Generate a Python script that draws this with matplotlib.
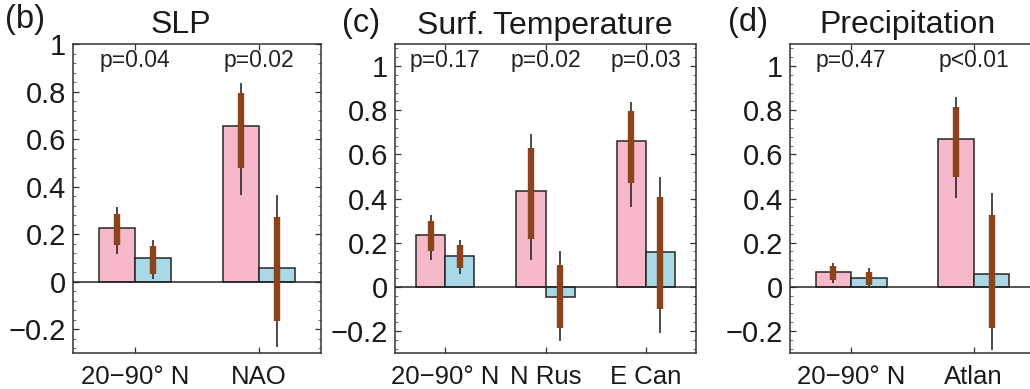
import matplotlib
matplotlib.use("Agg")
import matplotlib.pyplot as plt
from matplotlib.ticker import AutoMinorLocator

plt.rcParams['font.family'] = ['Liberation Sans', 'DejaVu Sans']

# ---- data -------------------------------------------------------------
slp_groups = ["20\u221290\u00b0 N", "NAO"]
slp_pink = [0.224, 0.654]
slp_pink_box = [(0.156, 0.285), (0.477, 0.793)]
slp_pink_whisk = [(0.118, 0.315), (0.363, 0.836)]
slp_blue = [0.098, 0.058]
slp_blue_box = [(0.031, 0.150), (-0.164, 0.273)]
slp_blue_whisk = [(0.010, 0.175), (-0.274, 0.366)]
slp_p = ["p=0.04", "p=0.02"]

tas_groups = ["20\u221290\u00b0 N", "N Rus", "E Can"]
tas_pink = [0.235, 0.434, 0.661]
tas_pink_box = [(0.164, 0.299), (0.216, 0.627), (0.469, 0.798)]
tas_pink_whisk = [(0.122, 0.326), (0.122, 0.692), (0.361, 0.838)]
tas_blue = [0.140, -0.047, 0.157]
tas_blue_box = [(0.085, 0.190), (-0.187, 0.100), (-0.101, 0.406)]
tas_blue_whisk = [(0.059, 0.213), (-0.247, 0.160), (-0.210, 0.499)]
tas_p = ["p=0.17", "p=0.02", "p=0.03"]

pr_groups = ["20\u221290\u00b0 N", "Atlan"]
pr_pink = [0.065, 0.671]
pr_pink_box = [(0.032, 0.092), (0.499, 0.816)]
pr_pink_whisk = [(0.017, 0.110), (0.404, 0.861)]
pr_blue = [0.041, 0.059]
pr_blue_box = [(0.009, 0.069), (-0.187, 0.326)]
pr_blue_whisk = [(0.003, 0.085), (-0.288, 0.427)]
pr_p = ["p=0.47", "p<0.01"]

ytick_vals = [-0.2, 0, 0.2, 0.4, 0.6, 0.8, 1.0]
ytick_labels = ["\u22120.2", "0", "0.2", "0.4", "0.6", "0.8", "1"]

# ---- style ------------------------------------------------------------
PINK = "#f7b8c9"
BLUE = "#a9d8e6"
BROWN = "#8b431c"
EDGE = "#262626"
W = 0.29

W_PX, H_PX = 1030, 389
fig = plt.figure(figsize=(W_PX / 100, H_PX / 100), dpi=100)


def add_axes(left, right, top=44, bottom=353):
    return fig.add_axes([left / W_PX, 1 - bottom / H_PX,
                         (right - left) / W_PX, (bottom - top) / H_PX])


def panel(ax, groups, pink, pink_box, pink_whisk, blue, blue_box,
          blue_whisk, plabels, ytop, p_y, right_ticks=True):
    x = list(range(1, len(groups) + 1))
    xp = [v - W / 2 for v in x]
    xb = [v + W / 2 for v in x]
    ax.bar(xp, pink, width=W, color=PINK, edgecolor=EDGE, linewidth=1.1,
           zorder=2)
    ax.bar(xb, blue, width=W, color=BLUE, edgecolor=EDGE, linewidth=1.1,
           zorder=2)
    ax.axhline(0, color=EDGE, linewidth=1.1, zorder=3)
    for xs, box, whisk in ((xp, pink_box, pink_whisk),
                           (xb, blue_box, blue_whisk)):
        for xi, (b0, b1), (w0, w1) in zip(xs, box, whisk):
            ax.plot([xi, xi], [w0, w1], color="#1a1a1a", linewidth=1.1,
                    zorder=4, solid_capstyle="butt")
            ax.plot([xi, xi], [b0, b1], color=BROWN, linewidth=4.6,
                    zorder=5, solid_capstyle="butt")
    for xi, txt in zip(x, plabels):
        ax.text(xi, p_y, txt, ha="center", va="baseline", fontsize=16.5,
                color="#222222", zorder=6)
    ax.set_xlim(0.5, len(groups) + 0.5)
    ax.set_ylim(-0.3, ytop)
    ax.set_xticks(x)
    ax.set_xticklabels(groups, fontsize=18.5, color="#1a1a1a")
    ax.set_yticks(ytick_vals)
    ax.set_yticklabels(ytick_labels, fontsize=21, color="#1a1a1a")
    ax.yaxis.set_minor_locator(AutoMinorLocator(5))
    ax.tick_params(axis="both", which="major", direction="in", length=4,
                   width=0.9, color="#333333", top=True, right=right_ticks)
    ax.tick_params(axis="x", pad=9)
    ax.tick_params(axis="y", pad=5)
    ax.tick_params(axis="y", which="minor", direction="in", length=2,
                   width=0.6, color="#555555", left=True, right=right_ticks)
    for s in ax.spines.values():
        s.set_color("#333333")
        s.set_linewidth(1.1)


ax_b = add_axes(73, 321)
panel(ax_b, slp_groups, slp_pink, slp_pink_box, slp_pink_whisk, slp_blue,
      slp_blue_box, slp_blue_whisk, slp_p, 1.0, 0.905)

ax_c = add_axes(395, 696)
panel(ax_c, tas_groups, tas_pink, tas_pink_box, tas_pink_whisk, tas_blue,
      tas_blue_box, tas_blue_whisk, tas_p, 1.1, 0.997)

ax_d = add_axes(790, 1035)
panel(ax_d, pr_groups, pr_pink, pr_pink_box, pr_pink_whisk, pr_blue,
      pr_blue_box, pr_blue_whisk, pr_p, 1.1, 0.997, right_ticks=False)


def ftext(xpx, ypx, s, size, ha="center"):
    fig.text(xpx / W_PX, 1 - ypx / H_PX, s, fontsize=size, ha=ha,
             va="baseline", color="#1a1a1a")


ftext(5, 28, "(b)", 23.5, ha="left")
ftext(181, 33, "SLP", 23)
ftext(342, 32, "(c)", 23.5, ha="left")
ftext(545, 34, "Surf. Temperature", 23)
ftext(728, 31, "(d)", 23.5, ha="left")
ftext(907, 33, "Precipitation", 23)

fig.savefig("out.png", dpi=100)
